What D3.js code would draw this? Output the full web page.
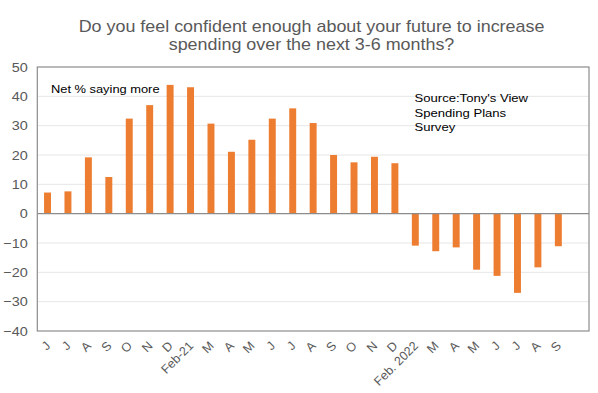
<!DOCTYPE html>
<html>
<head>
<meta charset="utf-8">
<script src="https://cdn.jsdelivr.net/npm/d3@7/dist/d3.min.js"></script>
<style>
  html, body { margin: 0; padding: 0; background: #fff; }
  svg { display: block; font-family: "Liberation Sans", Arial, sans-serif; }
</style>
</head>
<body>
<svg id="chart" width="598" height="393"></svg>
<script>
const titleLines = ["Do you feel confident enough about your future to increase", "spending over the next 3-6 months?"];
const categories = ["J","J","A","S","O","N","D","Feb-21","M","A","M","J","J","A","S","O","N","D","Feb. 2022","M","A","M","J","J","A","S"];
const values = [7.2, 7.6, 19.2, 12.5, 32.4, 37.0, 43.9, 43.1, 30.7, 21.1, 25.2, 32.4, 35.9, 30.9, 20.0, 17.5, 19.4, 17.2, -10.9, -12.8, -11.5, -19.1, -21.2, -27.0, -18.3, -11.1];
const yTicks = [50, 40, 30, 20, 10, 0, -10, -20, -30, -40];
const seriesLabel = "Net % saying more";
const sourceLines = ["Source:Tony's View", "Spending Plans", "Survey"];

const svg = d3.select("#chart");
const m = {left: 37.3, right: 589, top: 67, bottom: 331};
const stretch = 1.11;

// one trailing empty slot as in the original category range
const domain = categories.map((c, i) => i).concat([categories.length]);
const x = d3.scaleBand().domain(domain).range([m.left, m.right]).paddingInner(0.66).paddingOuter(0.33);
const y = d3.scaleLinear().domain([-40, 50]).range([m.bottom, m.top]);

// gridlines
svg.append("g").selectAll("line").data(yTicks.filter(t => t !== 0 && t !== 50 && t !== -40)).join("line")
  .attr("x1", m.left).attr("x2", m.right)
  .attr("y1", d => y(d)).attr("y2", d => y(d))
  .attr("stroke", "#e6e6e6").attr("stroke-width", 1);

// bars
svg.append("g").selectAll("rect").data(values).join("rect")
  .attr("x", (d, i) => x(i))
  .attr("width", x.bandwidth())
  .attr("y", d => d >= 0 ? y(d) : y(0))
  .attr("height", d => Math.abs(y(d) - y(0)))
  .attr("fill", "#ED7D31");

// plot border
svg.append("rect").attr("x", m.left).attr("y", m.top)
  .attr("width", m.right - m.left).attr("height", m.bottom - m.top)
  .attr("fill", "none").attr("stroke", "#8c8c8c").attr("stroke-width", 1.2);

// zero line
svg.append("line").attr("x1", m.left).attr("x2", m.right)
  .attr("y1", y(0)).attr("y2", y(0)).attr("stroke", "#8c8c8c").attr("stroke-width", 1.2);

// y axis
const yAxis = d3.axisLeft(y).tickValues(yTicks).tickSize(0).tickPadding(0);
const gy = svg.append("g").attr("transform", `translate(${m.left - 9.5},0)`).call(yAxis);
gy.select(".domain").remove();
gy.selectAll("text").attr("fill", "#595959").style("font-size", "13px")
  .style("font-family", "'Liberation Sans', Arial, sans-serif")
  .attr("x", 0).attr("transform", `scale(${stretch},1)`);

// x axis labels
const xAxis = d3.axisBottom(x).tickSize(0).tickFormat(i => i < categories.length ? categories[i] : "");
const gx = svg.append("g").attr("transform", `translate(0,${m.bottom})`).call(xAxis);
gx.select(".domain").remove();
gx.selectAll("text")
  .attr("fill", "#595959").style("font-size", "12.5px").style("font-family", "'Liberation Sans', Arial, sans-serif")
  .attr("text-anchor", "end")
  .attr("y", 0).attr("dy", "0.35em")
  .attr("transform", "translate(0.5,12.5) rotate(-45)");

// title
svg.append("g").selectAll("text").data(titleLines).join("text")
  .attr("transform", (d, i) => `translate(311.5,${31.5 + i * 18.5}) scale(1.12,1)`)
  .attr("text-anchor", "middle").attr("fill", "#595959").style("font-size", "16px")
  .text(d => d);

// series annotation
svg.append("text").attr("transform", `translate(51,92.5) scale(1.09,1)`)
  .attr("fill", "#000").style("font-size", "11.8px").text(seriesLabel);

// source
svg.append("g").selectAll("text").data(sourceLines).join("text")
  .attr("transform", (d, i) => `translate(414.5,${101.7 + i * 14.8}) scale(${stretch},1)`)
  .attr("fill", "#000").style("font-size", "11.8px")
  .text(d => d);
</script>
</body>
</html>
